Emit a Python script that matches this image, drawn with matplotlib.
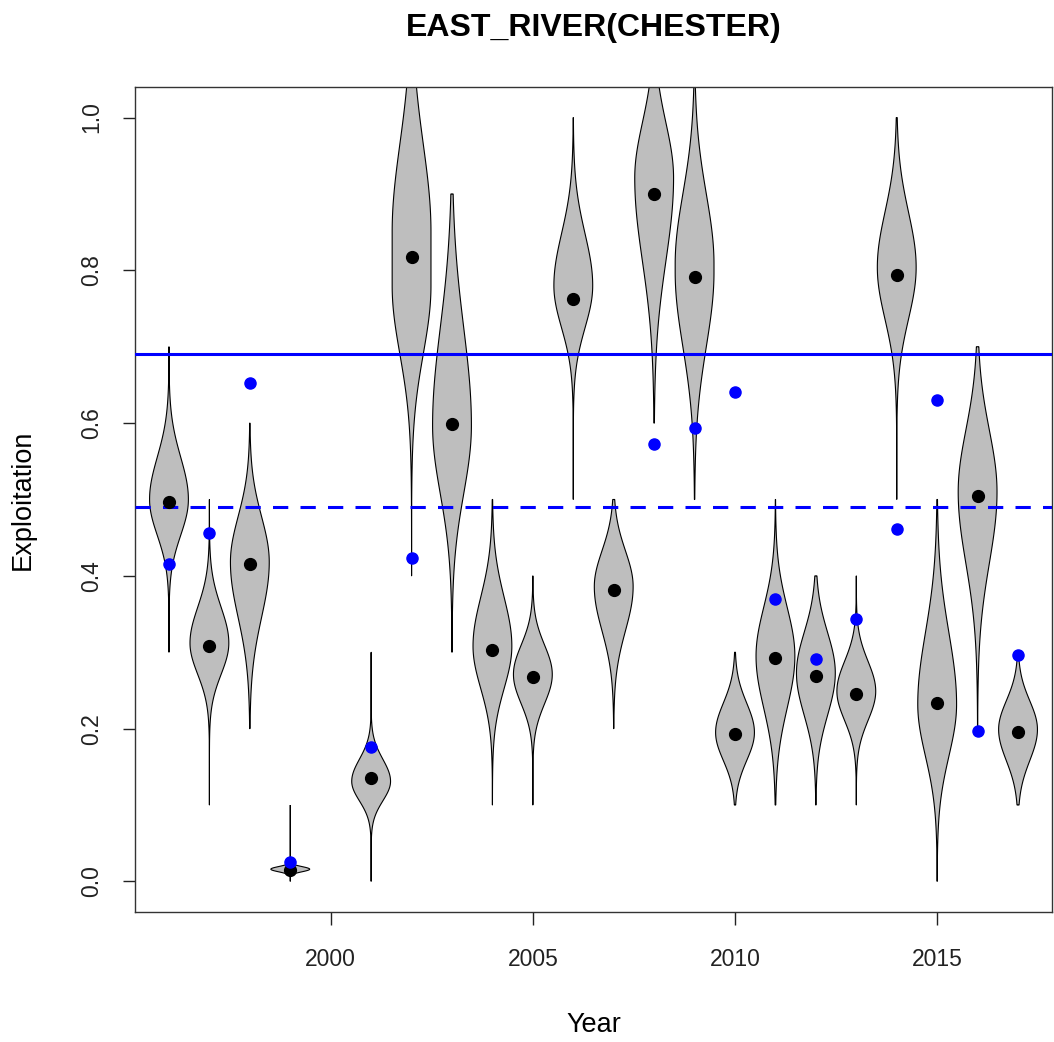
import numpy as np
import matplotlib
matplotlib.use("Agg")
import matplotlib.pyplot as plt

plt.rcParams['font.family'] = ['Liberation Sans', 'DejaVu Sans']

# ---- data ----
years    = [1996, 1997, 1998, 1999, 2001, 2002, 2003, 2004, 2005, 2006, 2007,
            2008, 2009, 2010, 2011, 2012, 2013, 2014, 2015, 2016, 2017]
medians  = [0.497, 0.308, 0.416, 0.015, 0.135, 0.817, 0.599, 0.303, 0.267, 0.763, 0.381,
            0.900, 0.791, 0.193, 0.293, 0.269, 0.245, 0.794, 0.234, 0.505, 0.195]
# widest part of each violin (lower / upper edge of the widest stretch)
widest_lo = [0.500, 0.312, 0.418, 0.016, 0.131, 0.780, 0.597, 0.308, 0.271, 0.780, 0.386,
             0.921, 0.798, 0.195, 0.295, 0.273, 0.249, 0.804, 0.232, 0.510, 0.199]
widest_hi = [0.500, 0.312, 0.418, 0.016, 0.131, 0.850, 0.597, 0.308, 0.271, 0.780, 0.386,
             0.921, 0.808, 0.195, 0.295, 0.273, 0.249, 0.804, 0.232, 0.510, 0.199]
range_lo = [0.30, 0.10, 0.20, 0.00, 0.00, 0.40, 0.30, 0.10, 0.10, 0.50, 0.20,
            0.60, 0.50, 0.10, 0.10, 0.10, 0.10, 0.50, 0.00, 0.20, 0.10]
range_hi = [0.70, 0.50, 0.60, 0.10, 0.30, 1.20, 0.90, 0.50, 0.40, 1.00, 0.50,
            1.10, 1.10, 0.30, 0.50, 0.40, 0.40, 1.00, 0.50, 0.70, 0.29]
# distance from the widest stretch to where the violin is half as wide (below / above)
spread_lo = [0.055, 0.048, 0.085, 0.004, 0.030, 0.105, 0.105, 0.065, 0.045, 0.065, 0.068,
             0.128, 0.115, 0.043, 0.080, 0.065, 0.045, 0.080, 0.080, 0.110, 0.048]
spread_hi = [0.065, 0.055, 0.070, 0.004, 0.034, 0.135, 0.150, 0.075, 0.045, 0.080, 0.055,
             0.085, 0.108, 0.045, 0.075, 0.062, 0.046, 0.085, 0.110, 0.095, 0.044]
obs_years = [1996, 1997, 1998, 1999, 2001, 2002, 2008, 2009, 2010, 2011, 2012,
             2013, 2014, 2015, 2016, 2017]
obs_vals  = [0.415, 0.456, 0.652, 0.026, 0.176, 0.424, 0.573, 0.594, 0.641, 0.370, 0.291,
             0.344, 0.462, 0.630, 0.197, 0.297]
ref_solid = 0.69
ref_dash = 0.49

title = "EAST_RIVER(CHESTER)"
xlabel = "Year"
ylabel = "Exploitation"
xticks = [2000, 2005, 2010, 2015]
yticks = [0.0, 0.2, 0.4, 0.6, 0.8, 1.0]

# ---- figure ----
fig = plt.figure(figsize=(10.54, 10.42), dpi=100)
ax = fig.add_axes([0.1281, 0.1248, 0.9981 - 0.1281, 0.9165 - 0.1248])

ZH = np.sqrt(2 * np.log(2))  # z at half max (gaussian profile)
HALF_W = 0.48

for x, wlo, whi, lo, hi, slo, shi in zip(years, widest_lo, widest_hi, range_lo, range_hi,
                                         spread_lo, spread_hi):
    y = np.linspace(lo, hi, 800)
    z = np.zeros_like(y)
    below = y < wlo
    above = y > whi
    z[below] = (wlo - y[below]) / (slo / ZH)
    z[above] = (y[above] - whi) / (shi / ZH)
    w = HALF_W * np.exp(-0.5 * z ** 2)
    ax.fill(np.concatenate([x - w, (x + w)[::-1]]), np.concatenate([y, y[::-1]]),
            facecolor='#bebebe', edgecolor='black', linewidth=0.8, zorder=2)

ax.plot(years, medians, 'o', color='black', markersize=8.5, zorder=4)
ax.axhline(ref_solid, color='#0000ff', linewidth=2.2, zorder=3)
ax.axhline(ref_dash, color='#0000ff', linewidth=2.2, linestyle=(0, (5, 4)), zorder=3)
ax.plot(obs_years, obs_vals, 'o', color='#0000ff', markersize=8, zorder=5)

ax.set_xlim(1995.16, 2017.84)
ax.set_ylim(-0.04, 1.04)
ax.set_xticks(xticks)
ax.set_yticks(yticks)
ax.set_yticklabels([f"{v:.1f}" for v in yticks], rotation=90, va='center')
ax.tick_params(direction='out', length=9, width=1, labelsize=16.5, colors='#222222')
ax.tick_params(axis='x', pad=17)
ax.tick_params(axis='y', pad=14)
for sp in ax.spines.values():
    sp.set_linewidth(1.0)
    sp.set_color('#333333')

ax.set_title(title, fontsize=23, fontweight='bold', pad=37)
ax.set_xlabel(xlabel, fontsize=19.5, labelpad=29.5)
ax.set_ylabel(ylabel, fontsize=19.5, labelpad=32)

fig.savefig("out.png", dpi=100)
